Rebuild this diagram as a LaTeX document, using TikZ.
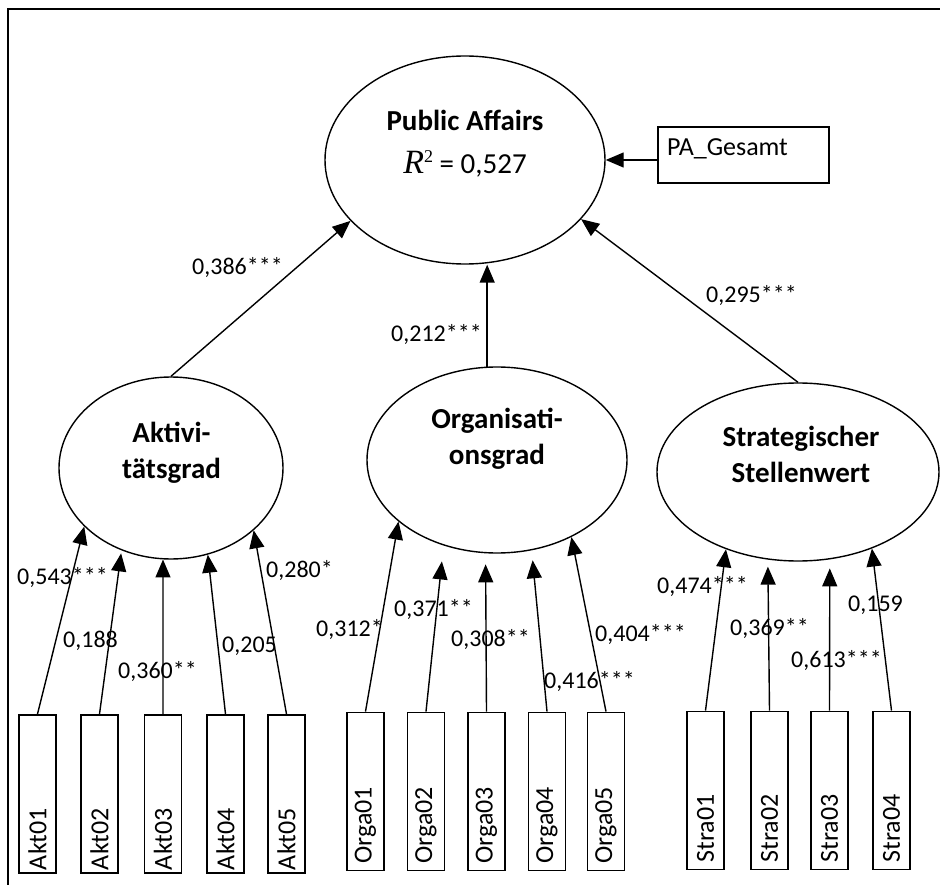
\documentclass[tikz,border=0pt]{standalone}
\usepackage{fontspec}
\setmainfont{Carlito}
\newfontfamily\rfont{Liberation Serif}
\usetikzlibrary{shapes.geometric, arrows.meta}

\begin{document}
\begin{tikzpicture}[x=1pt, y=-1pt,
  latent/.style={ellipse, draw, line width=1.4pt, inner sep=0pt},
  ltext/.style={anchor=base, inner sep=0pt, font=\fontsize{29}{36}\selectfont\bfseries},
  % indicator boxes are turned by 90 degrees: their east side faces up
  item/.style={draw, line width=1.9pt, rotate=90, minimum height=37pt,
    inner ysep=0pt, align=left, font=\fontsize{26}{30}\selectfont},
  akt item/.style={item, inner xsep=3pt, text width=152pt},
  org item/.style={item, inner xsep=7pt, text width=144pt},
  load/.style={line width=1.4pt, -{Triangle[length=18pt, width=15pt]}},
  coef/.style={anchor=west, inner sep=0pt, font=\fontsize{24}{29}\selectfont},
]
\useasboundingbox (0,0) rectangle (940,885);

% outer frame (top and left edge)
\draw[line width=2pt] (7.5,885) -- (7.5,9.5) -- (940,9.5);

% latent constructs
\node[latent, minimum width=280pt, minimum height=208pt] (pa) at (465,160) {};
\node[ltext] (pa-t) at (465,131) {\begin{tabular}[t]{@{}c@{}}Public Affairs\\[7pt]
  \mdseries{\rfont\fontsize{34}{36}\selectfont\itshape R}\raisebox{11pt}{\rfont\fontsize{18}{18}\selectfont 2} = 0,527\end{tabular}};

\node[latent, minimum width=224pt, minimum height=182pt] (akt) at (171,468) {};
\node[ltext] (akt-t) at (171.5,442) {\begin{tabular}[t]{@{}c@{}}Aktivi-\\tätsgrad\end{tabular}};

\node[latent, minimum width=260pt, minimum height=186pt] (orga) at (497,460) {};
\node[ltext] (orga-t) at (497,428) {\begin{tabular}[t]{@{}c@{}}Organisati-\\onsgrad\end{tabular}};

\node[latent, minimum width=282pt, minimum height=178pt] (stra) at (798,472) {};
\node[ltext] (stra-t) at (801,446) {\begin{tabular}[t]{@{}c@{}}Strategischer\\Stellenwert\end{tabular}};

% single-item measure
\node[draw, line width=1.9pt, minimum width=171pt, minimum height=56pt, inner sep=0pt] (pag) at (743.5,155) {};
\node[anchor=base west, inner sep=0pt, font=\fontsize{26}{30}\selectfont] (pag-t) at (667,156) {PA\_Gesamt};
\draw[load] (pag.west |- pa.east) -- (pa.east);

% structural paths
\draw[load] (akt.north) -- (pa.208.8);
\draw[load] (orga.96.7) -- (orga.96.7 |- pa.south);
\draw[load] (stra.north) -- (pa.-27);
\node[coef] (c-akt) at (192,268) {0,386***};
\node[coef] (c-org) at (391,335) {0,212***};
\node[coef] (c-str) at (706,296) {0,295***};

% indicators
\foreach \i/\x in {1/37.5, 2/99.5, 3/163, 4/225.5, 5/286.5}
  \node[akt item] (a\i) at (\x,794) {Akt0\i};
\foreach \i/\x in {1/365.5, 2/426, 3/486.5, 4/547, 5/606}
  \node[org item] (o\i) at (\x,791.5) {Orga0\i};
\foreach \i/\x in {1/705.5, 2/769.5, 3/829.5, 4/891.5}
  \node[org item] (s\i) at (\x,790.5) {Stra0\i};

% measurement paths
\draw[load] (a1.east) -- (akt.214.7);
\draw[load, shorten >=3pt] (a2.east) -- (akt.239.4);
\draw[load] (a3.east) -- (akt.265);
\draw[load] (a4.east) -- (akt.293);
\draw[load] (a5.east) -- (akt.323.4);

\draw[load] (o1.east) -- (orga.212.2);
\draw[load, shorten >=16pt] (o2.east) -- (orga.238);
\draw[load, shorten >=11pt] (o3.east) -- (orga.263.2);
\draw[load, shorten >=10pt] (o4.east) -- (orga.291.3);
\draw[load] (o5.east) -- (orga.314.2);

\draw[load] (s1.east) -- (stra.227.7);
\draw[load, shorten >=7pt] (s2.east) -- (stra.251.6);
\draw[load, shorten >=9pt] (s3.east) -- (stra.290.3);
\draw[load] (s4.east) -- (stra.314.2);

% loadings
\node[coef] (l-a1) at (17,578) {0,543***};
\node[coef] (l-a2) at (63,641) {0,188};
\node[coef] (l-a3) at (118,672) {0,360**};
\node[coef] (l-a4) at (222,646) {0,205};
\node[coef] (l-a5) at (266,571) {0,280*};

\node[coef] (l-o1) at (316,630) {0,312*};
\node[coef] (l-o2) at (394,610) {0,371**};
\node[coef] (l-o3) at (451,640) {0,308**};
\node[coef] (l-o4) at (544,682) {0,416***};
\node[coef] (l-o5) at (595,635) {0,404***};

\node[coef] (l-s1) at (657,587) {0,474***};
\node[coef] (l-s2) at (730,629) {0,369**};
\node[coef] (l-s3) at (791,661) {0,613***};
\node[coef] (l-s4) at (848,605) {0,159};
\end{tikzpicture}
\end{document}
